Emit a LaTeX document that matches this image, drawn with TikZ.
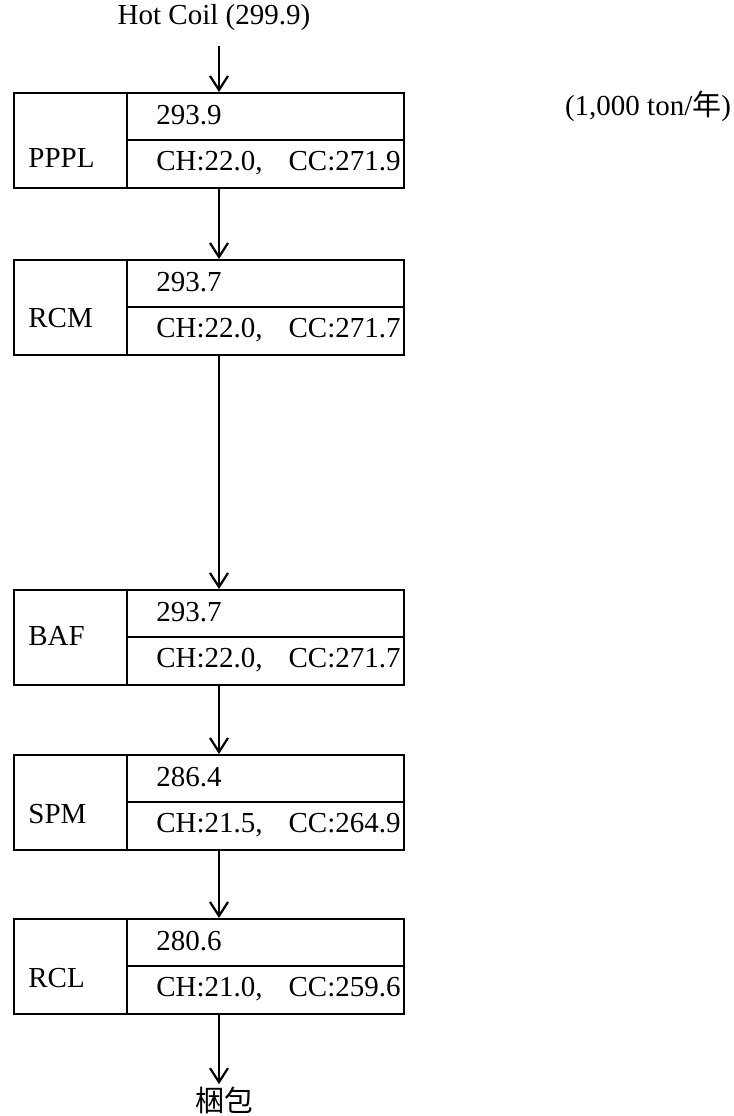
\documentclass[tikz,border=0pt]{standalone}
\usepackage{fontspec}
\setmainfont{Liberation Serif}
\newfontfamily\cjk{Noto Sans CJK JP}
\usetikzlibrary{arrows.meta,positioning}
\tikzset{
  procbox/.style={draw,line width=0.9pt,minimum width=195pt,minimum height=47.5pt,inner sep=0pt},
  divider/.style={line width=0.9pt},
  flow/.style={line width=1.1pt,-{Straight Barb[length=7pt,width=9pt]}},
  txt/.style={font=\fontsize{14.5}{16}\selectfont,inner sep=0pt},
}

\begin{document}
\begin{tikzpicture}[x=0.5pt,y=-0.5pt]
  \useasboundingbox (0,0) rectangle (734,1116);
  \coordinate (col) at (219,0);

  % input and unit
  \node[txt] (hot) at (214,18) {Hot Coil (299.9)};
  \node[txt] (unit) at (648,106) {(1,000 ton/{\cjk 年})};

  % process boxes: name/label/top/total/CH/CC/label baseline
  \foreach \name/\lbl/\top/\tot/\ch/\cc/\off in {
      pppl/PPPL/92/293.9/22.0/271.9/75,
      rcm/RCM/259/293.7/22.0/271.7/68,
      baf/BAF/589/293.7/22.0/271.7/56,
      spm/SPM/754/286.4/21.5/264.9/69,
      rcl/RCL/918/280.6/21.0/259.6/69} {
    \pgfmathsetmacro{\mid}{\top+48}
    \pgfmathsetmacro{\bot}{\top+95}
    \node[procbox,anchor=north west] (\name) at (13,\top) {};
    \draw[divider] (127,\top) -- (127,\bot);
    \draw[divider] (127,\mid) -- (403,\mid);
    \node[txt,anchor=base west] (\name-lbl) at (28,{\top+\off}) {\lbl};
    \node[txt,anchor=base west] (\name-tot) at (156,{\top+32}) {\tot};
    \node[txt,anchor=base west] (\name-ch) at (156,{\top+78}) {CH:\ch,};
    \node[txt,anchor=base east] (\name-cc) at (401,{\top+78}) {CC:\cc};
  }

  % output
  \node[txt] (pack) at (224,1100) {\cjk 梱包};

  % flow arrows
  \draw[flow,shorten <=7pt] (hot.south -| col) -- (pppl.north -| col);
  \foreach \a/\b in {pppl/rcm, rcm/baf, baf/spm, spm/rcl}
    \draw[flow] (\a.south -| col) -- (\b.north -| col);
  \draw[flow,shorten >=1pt] (rcl.south -| col) -- (pack.north -| col);
\end{tikzpicture}
\end{document}
